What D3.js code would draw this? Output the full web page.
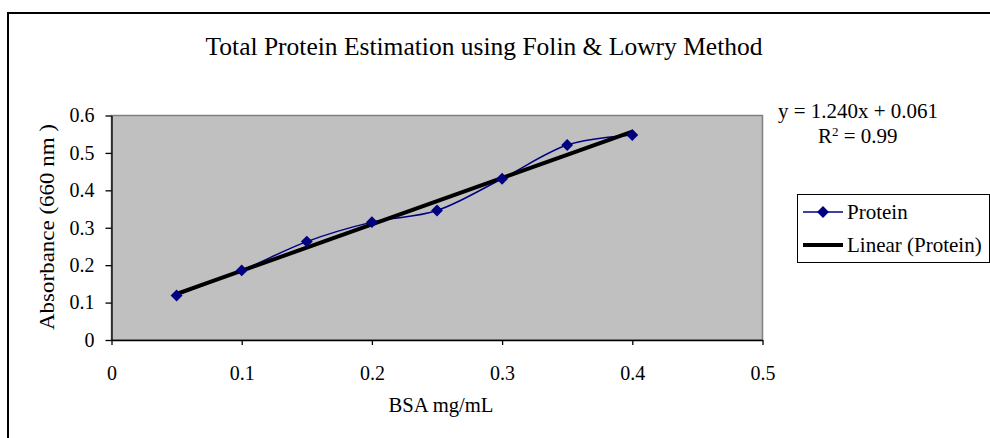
<!DOCTYPE html>
<html>
<head>
<meta charset="utf-8">
<script src="https://cdn.jsdelivr.net/npm/d3@7"></script>
<style>
  body { margin: 0; background: #fff; }
  text { font-family: "Liberation Serif", "Times New Roman", serif; fill: #000; }
</style>
</head>
<body>
<div id="chart"></div>
<script>
// data
var bsa = [0.05, 0.1, 0.15, 0.2, 0.25, 0.3, 0.35, 0.4];
var absorbance = [0.119, 0.186, 0.263, 0.315, 0.346, 0.431, 0.521, 0.548];
var xTicks = [0, 0.1, 0.2, 0.3, 0.4, 0.5];
var yTicks = [0, 0.1, 0.2, 0.3, 0.4, 0.5, 0.6];
var slope = 1.240, intercept = 0.061;
var seriesNames = ["Protein", "Linear (Protein)"];

var width = 990, height = 438;
var plot = { left: 111.5, right: 762.5, top: 115.5, bottom: 340 };

var svg = d3.select("#chart").append("svg")
  .attr("width", width)
  .attr("height", height);

// chart frame
svg.append("rect")
  .attr("x", 8).attr("y", 13)
  .attr("width", 1000).attr("height", 500)
  .attr("fill", "#fff")
  .attr("stroke", "#000")
  .attr("stroke-width", 2);

var x = d3.scaleLinear().domain([0, 0.5]).range([plot.left, plot.right]);
var y = d3.scaleLinear().domain([0, 0.6]).range([plot.bottom, plot.top]);

// plot area
svg.append("rect")
  .attr("x", plot.left).attr("y", plot.top)
  .attr("width", plot.right - plot.left)
  .attr("height", plot.bottom - plot.top)
  .attr("fill", "#c0c0c0")
  .attr("stroke", "#808080")
  .attr("stroke-width", 1.5);

var fmt = function(d) { return d === 0 ? "0" : d3.format(".1f")(d); };

var xAxis = svg.append("g")
  .attr("transform", "translate(0," + plot.bottom + ")")
  .call(d3.axisBottom(x).tickValues(xTicks).tickSize(5).tickSizeOuter(0).tickFormat(fmt));
xAxis.selectAll("text").attr("dy", 0).attr("y", 40);

var yAxis = svg.append("g")
  .attr("transform", "translate(" + plot.left + ",0)")
  .call(d3.axisLeft(y).tickValues(yTicks).tickSize(6).tickSizeOuter(0).tickFormat(fmt));
yAxis.selectAll("text").attr("x", -17);

svg.selectAll(".domain, .tick line").attr("stroke", "#000").attr("stroke-width", 1.3);
svg.selectAll(".tick text")
  .style("font-family", "Liberation Serif")
  .style("font-size", "20px");

// smoothed data line
var line = d3.line()
  .x(function(d, i) { return x(bsa[i]); })
  .y(function(d) { return y(d); })
  .curve(d3.curveCatmullRom.alpha(0));

svg.append("path")
  .datum(absorbance)
  .attr("d", line)
  .attr("fill", "none")
  .attr("stroke", "#000080")
  .attr("stroke-width", 1.5);

// trendline
var x0 = bsa[0], x1 = bsa[bsa.length - 1];
svg.append("line")
  .attr("x1", x(x0)).attr("y1", y(slope * x0 + intercept))
  .attr("x2", x(x1)).attr("y2", y(slope * x1 + intercept))
  .attr("stroke", "#000")
  .attr("stroke-width", 4);

var diamond = d3.symbol().type(d3.symbolDiamond2).size(90);
svg.selectAll("path.pt")
  .data(absorbance)
  .enter()
  .append("path")
    .attr("class", "pt")
    .attr("d", diamond)
    .attr("transform", function(d, i) { return "translate(" + x(bsa[i]) + "," + y(d) + ")"; })
    .attr("fill", "#000080");

// titles
svg.append("text")
  .attr("x", 484).attr("y", 55)
  .attr("text-anchor", "middle")
  .attr("textLength", 557)
  .attr("lengthAdjust", "spacingAndGlyphs")
  .style("font-size", "26px")
  .text("Total Protein Estimation using Folin & Lowry Method");

svg.append("text")
  .attr("x", 441).attr("y", 412)
  .attr("text-anchor", "middle")
  .attr("textLength", 105)
  .attr("lengthAdjust", "spacingAndGlyphs")
  .style("font-size", "20px")
  .text("BSA mg/mL");

svg.append("text")
  .attr("transform", "translate(54,227) rotate(-90)")
  .attr("text-anchor", "middle")
  .attr("textLength", 206)
  .attr("lengthAdjust", "spacingAndGlyphs")
  .style("font-size", "21px")
  .text("Absorbance (660 nm )");

// equation
svg.append("text")
  .attr("x", 778).attr("y", 118)
  .attr("textLength", 160)
  .attr("lengthAdjust", "spacingAndGlyphs")
  .style("font-size", "21px")
  .text("y = " + slope.toFixed(3) + "x + " + intercept.toFixed(3));

var r2 = svg.append("text")
  .attr("x", 818).attr("y", 143)
  .style("font-size", "21px");
r2.append("tspan").text("R");
r2.append("tspan").attr("dy", -7).style("font-size", "13px").text("2");
r2.append("tspan").attr("dy", 7).text(" = 0.99");

// legend
var legend = svg.append("g").attr("transform", "translate(797,194)");
legend.append("rect")
  .attr("x", 0.5).attr("y", 0.5)
  .attr("width", 192).attr("height", 68)
  .attr("fill", "#fff")
  .attr("stroke", "#000")
  .attr("stroke-width", 1);

legend.append("line")
  .attr("x1", 6).attr("x2", 46).attr("y1", 18).attr("y2", 18)
  .attr("stroke", "#000080").attr("stroke-width", 1.5);
legend.append("path")
  .attr("d", diamond)
  .attr("transform", "translate(26,18)")
  .attr("fill", "#000080");
legend.append("line")
  .attr("x1", 6).attr("x2", 46).attr("y1", 51).attr("y2", 51)
  .attr("stroke", "#000").attr("stroke-width", 4);

legend.selectAll("text.lg")
  .data(seriesNames)
  .enter()
  .append("text")
    .attr("class", "lg")
    .attr("x", 50)
    .attr("y", function(d, i) { return 25 + i * 33; })
    .style("font-size", "21px")
    .text(function(d) { return d; });
</script>
</body>
</html>
